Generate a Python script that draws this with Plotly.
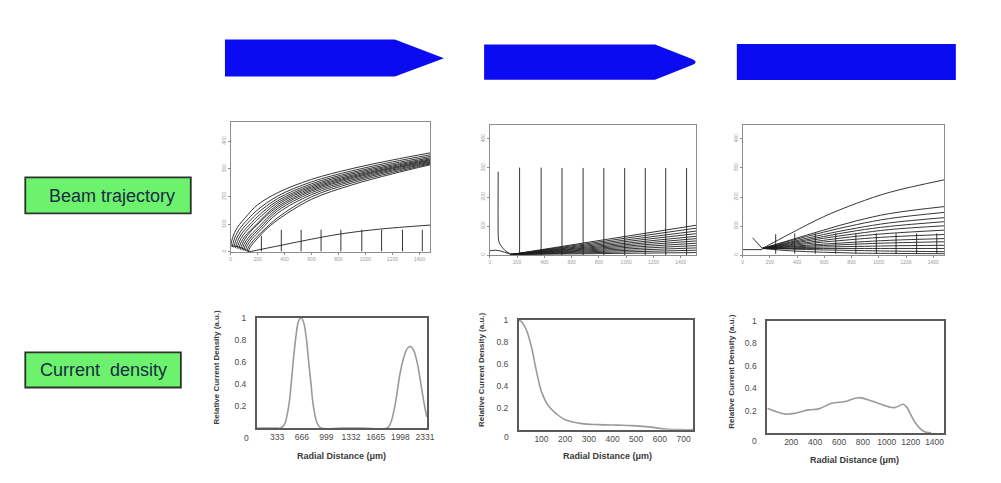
import plotly.graph_objects as go

W, H = 1001, 483

# ---------------- Beam trajectory panel 1 (pointed tip) ----------------
T1_CURVES_X = [
    [0, 15, 50, 120, 200, 350, 600, 900, 1200, 1482],
    [12, 27, 62, 132, 200, 350, 600, 900, 1200, 1482],
    [24, 39, 74, 144, 200, 350, 600, 900, 1200, 1482],
    [36, 51, 86, 156, 200, 350, 600, 900, 1200, 1482],
    [48, 63, 98, 168, 200, 350, 600, 900, 1200, 1482],
    [60, 75, 110, 180, 350, 600, 900, 1200, 1482],
    [72, 87, 122, 192, 350, 600, 900, 1200, 1482],
    [84, 99, 134, 204, 350, 600, 900, 1200, 1482],
    [96, 111, 146, 216, 350, 600, 900, 1200, 1482],
    [108, 123, 158, 228, 350, 600, 900, 1200, 1482],
    [120, 135, 170, 240, 350, 600, 900, 1200, 1482],
    [130, 145, 180, 250, 350, 600, 900, 1200, 1482],
]
T1_CURVES_Y = [
    [20, 52, 88, 130, 170, 214, 262, 301, 332, 358],
    [18, 46, 80, 120, 152, 202, 253, 293, 325, 351],
    [16, 42, 74, 113, 140, 193, 246, 287, 319, 345],
    [14, 38, 69, 106, 128, 185, 240, 282, 314, 340],
    [12, 35, 64, 102, 117, 178, 235, 277, 310, 336],
    [10, 32, 59, 94, 171, 230, 273, 306, 333],
    [8, 29, 58, 95, 164, 225, 269, 303, 330],
    [6, 27, 53, 88, 157, 220, 265, 300, 327],
    [5, 25, 50, 85, 149, 214, 260, 296, 324],
    [4, 23, 47, 82, 140, 207, 255, 292, 321],
    [2, 20, 42, 76, 124, 199, 249, 287, 318],
    [0, 17, 38, 75, 116, 190, 242, 282, 315],
]
T1_CATHODE_X = [0, 60, 140]
T1_CATHODE_Y = [22, 18, 0]
T1_LOW_X = [133, 376, 600, 818, 1100, 1482]
T1_LOW_Y = [0, 24, 46, 65, 82, 97]
T1_VERT_X = [228, 376, 523, 671, 818, 973, 1120, 1275, 1422]
T1_VERT_TOP = [58, 80, 80, 80, 80, 80, 80, 80, 80]

# ---------------- Beam trajectory panel 2 (rounded tip) ----------------
T2_J_X = [61, 61, 63, 68, 76, 90, 109, 145, 190]
T2_J_Y = [287, 75, 55, 44, 36, 27, 17, 6, 2]
T2_SHORT_X = [0, 40, 80, 145]
T2_SHORT_Y = [15, 17, 14, 4]
T2_FAN_START_X = 150
T2_FAN_START_Y = 2
T2_FAN_END_X = 1515
T2_FAN_END_Y = [103, 93, 83, 74, 65, 57, 49, 41, 33, 25, 17, 9]
T2_VERT_X = [218, 376, 529, 684, 836, 989, 1140, 1290, 1443]
T2_VERT_TOP = [301, 301, 300, 300, 300, 300, 300, 300, 300]

# ---------------- Beam trajectory panel 3 (flat tip) ----------------
T3_CURVE_X = [145, 350, 594, 836, 1079, 1480]
T3_CURVES_Y = [
    [23, 74, 132, 178, 216, 259],
    [23, 52, 86, 118, 143, 167],
    [23, 49, 79, 105, 126, 147],
    [23, 45, 71, 93, 111, 129],
    [23, 42, 64, 84, 99, 115],
    [23, 39, 58, 74, 88, 101],
    [23, 36, 51, 65, 75, 86],
    [23, 33, 45, 55, 63, 71],
    [23, 30, 38, 45, 51, 57],
    [23, 28, 33, 38, 42, 46],
    [23, 25, 28, 30, 32, 34],
    [23, 23, 23, 23, 23, 23],
    [23, 21, 18, 16, 14, 12],
    [23, 15, 10, 7, 6, 5],
]
T3_FLAT_X = [0, 145]
T3_FLAT_Y = [19, 19]
T3_DIAG_X = [73, 145]
T3_DIAG_Y = [60, 23]
T3_VERT_X = [243, 383, 534, 684, 832, 982, 1127, 1278, 1426]
T3_VERT_TOP = [72, 75, 75, 75, 75, 75, 75, 75, 75]

# ---------------- Current density curves ----------------
CD1_X = [60, 300, 377, 430, 489, 522, 555, 590, 622, 657, 690, 722, 755, 790, 822,
         870, 924, 1200, 1500, 1821, 1870, 1909, 1950, 1990, 2040, 2090, 2135,
         2180, 2230, 2280, 2320, 2355]
CD1_Y = [0, 0, 0, 0.03, 0.2, 0.4, 0.64, 0.85, 0.97, 1.0, 0.96, 0.84, 0.63, 0.4, 0.2,
         0.05, 0, 0, 0, 0, 0.05, 0.15, 0.3, 0.48, 0.63, 0.72, 0.74,
         0.7, 0.58, 0.38, 0.22, 0.1]
CD1_TICKS = [333, 666, 999, 1332, 1665, 1998, 2331]

CD2_X = [0, 12, 24, 38, 59, 80, 101, 130, 165, 200, 270, 341, 420, 482, 552, 623, 693, 740]
CD2_Y = [1.0, 0.99, 0.96, 0.9, 0.74, 0.52, 0.34, 0.215, 0.14, 0.09, 0.055, 0.046,
         0.041, 0.037, 0.025, 0.006, 0, 0]
CD2_TICKS = [100, 200, 300, 400, 500, 600, 700]

CD3_X = [0, 55, 152, 235, 346, 430, 540, 651, 762, 873, 1011, 1066, 1136, 1163,
         1233, 1288, 1330, 1371]
CD3_Y = [0.22, 0.197, 0.168, 0.176, 0.206, 0.215, 0.265, 0.28, 0.315, 0.285, 0.235,
         0.226, 0.256, 0.235, 0.10, 0.03, 0.005, 0]
CD3_TICKS = [200, 400, 600, 800, 1000, 1200, 1400]

CD_Y_TICKS = [0.2, 0.4, 0.6, 0.8, 1]
CD_Y_TEXT = ["0.2", "0.4", "0.6", "0.8", "1"]

ROW_LABELS = ["Beam trajectory", "Current\u00a0 density"]
X_TITLE = "Radial Distance (μm)"
Y_TITLE = "Relative Current Density (a.u.)"

# ---------------- helpers ----------------
def pxx(x):
    return x / W


def pxy(y):
    return 1 - y / H


TRAJ = "#1e1e1e"
fig = go.Figure()


def line(xs, ys, ax, color=TRAJ, width=0.9, shape="spline"):
    fig.add_trace(go.Scatter(x=xs, y=ys, xaxis=ax[0], yaxis=ax[1], mode="lines",
                             line=dict(color=color, width=width, shape=shape),
                             hoverinfo="skip", showlegend=False))


def verticals(xs, tops, bottom, ax):
    vx, vy = [], []
    for x, t in zip(xs, tops):
        vx += [x, x, None]
        vy += [bottom, t, None]
    line(vx, vy, ax, shape="linear")


A1, A2, A3 = ("x", "y"), ("x2", "y2"), ("x3", "y3")
B1, B2, B3 = ("x4", "y4"), ("x5", "y5"), ("x6", "y6")

# panel 1
for xs, ys in zip(T1_CURVES_X, T1_CURVES_Y):
    line(xs, ys, A1)
line(T1_CATHODE_X, T1_CATHODE_Y, A1)
line(T1_LOW_X, T1_LOW_Y, A1)
verticals(T1_VERT_X, T1_VERT_TOP, 2, A1)

# panel 2
line(T2_J_X, T2_J_Y, A2)
line(T2_SHORT_X, T2_SHORT_Y, A2)
for ye in T2_FAN_END_Y:
    line([T2_FAN_START_X, T2_FAN_END_X], [T2_FAN_START_Y, ye], A2, shape="linear")
verticals(T2_VERT_X, T2_VERT_TOP, 0, A2)

# panel 3
for ys in T3_CURVES_Y:
    line(T3_CURVE_X, ys, A3)
line(T3_FLAT_X, T3_FLAT_Y, A3, shape="linear")
line(T3_DIAG_X, T3_DIAG_Y, A3, shape="linear")
verticals(T3_VERT_X, T3_VERT_TOP, 5, A3)

# current density
CD_COLOR = "#9a9a9a"
line(CD1_X, CD1_Y, B1, color=CD_COLOR, width=1.6)
line(CD2_X, CD2_Y, B2, color=CD_COLOR, width=1.6)
line(CD3_X, CD3_Y, B3, color=CD_COLOR, width=1.6)

# ---------------- axes ----------------
def traj_axes(xd, yd, xr, yr):
    common = dict(showgrid=False, zeroline=False, showline=True, mirror=True,
                  linecolor="#8c8c8c", linewidth=1, ticks="outside", ticklen=2,
                  tickcolor="#8c8c8c", tickfont=dict(size=5, color="#9a9a9a",
                                                     family="Arial"))
    xa = dict(common, domain=[pxx(xd[0]), pxx(xd[1])], range=xr,
              tickvals=[0, 200, 400, 600, 800, 1000, 1200, 1400])
    ya = dict(common, domain=[pxy(yd[1]), pxy(yd[0])], range=yr,
              tickvals=[0, 100, 200, 300, 400], tickangle=-90)
    return xa, ya


def cd_axes(xd, yd, xr, xt):
    common = dict(showgrid=False, zeroline=False, showline=True, mirror=True,
                  linecolor="#5a5a5a", linewidth=2,
                  tickfont=dict(size=8.5, color="#4a4a4a", family="Arial"))
    xa = dict(common, domain=[pxx(xd[0]), pxx(xd[1])], range=xr, tickvals=xt,
              ticks="")
    ya = dict(common, domain=[pxy(yd[1]), pxy(yd[0])], range=[0, 1],
              tickvals=CD_Y_TICKS, ticktext=CD_Y_TEXT, ticks="outside",
              tickcolor="rgba(0,0,0,0)", ticklen=7)
    return xa, ya


layout_axes = {}
specs = [
    traj_axes((231.7, 433.3), (118.3, 250), [0, 1482], [0, 470]),
    traj_axes((493.3, 701.7), (121.7, 253.3), [0, 1515], [0, 447]),
    traj_axes((748.3, 951.7), (121.7, 253.3), [0, 1480], [0, 447]),
    cd_axes((258.3, 430), (316.7, 428.3), [60, 2360], CD1_TICKS),
    cd_axes((522.7, 698.3), (319, 430), [5, 740], CD2_TICKS),
    cd_axes((773.3, 951.7), (320, 433.3), [0, 1480], CD3_TICKS),
]
for i, (xa, ya) in enumerate(specs, start=1):
    sx = "" if i == 1 else str(i)
    xa["anchor"] = "y" + sx
    ya["anchor"] = "x" + sx
    layout_axes["xaxis" + sx] = xa
    layout_axes["yaxis" + sx] = ya

# ---------------- shapes ----------------
def path(points, close=True):
    s = "M " + " L ".join(f"{pxx(x):.5f},{pxy(y):.5f}" for x, y in points)
    return s + (" Z" if close else "")


BLUE = "#0b0bf2"
shapes = [
    dict(type="path", xref="paper", yref="paper",
         path=path([(226, 35), (397.5, 35), (447, 54), (397.5, 72.3), (226, 72.3)]),
         fillcolor=BLUE, line=dict(width=0)),
    dict(type="path", xref="paper", yref="paper",
         path=("M " + f"{pxx(487.5):.5f},{pxy(40):.5f}"
               + f" L {pxx(660):.5f},{pxy(40):.5f}"
               + f" L {pxx(698):.5f},{pxy(55):.5f}"
               + f" Q {pxx(704):.5f},{pxy(57.8):.5f} {pxx(698):.5f},{pxy(60.6):.5f}"
               + f" L {pxx(660):.5f},{pxy(75.7):.5f}"
               + f" L {pxx(487.5):.5f},{pxy(75.7):.5f} Z"),
         fillcolor=BLUE, line=dict(width=0)),
    dict(type="rect", xref="paper", yref="paper", x0=pxx(742.5), x1=pxx(963.5),
         y0=pxy(76), y1=pxy(39.5), fillcolor=BLUE, line=dict(width=0)),
    dict(type="rect", xref="paper", yref="paper", x0=pxx(24.5), x1=pxx(191.5),
         y0=pxy(211), y1=pxy(174.5), fillcolor="#6cf26c",
         line=dict(color="#2c332c", width=1.8)),
    dict(type="rect", xref="paper", yref="paper", x0=pxx(24.5), x1=pxx(181.5),
         y0=pxy(387.3), y1=pxy(351.7), fillcolor="#6cf26c",
         line=dict(color="#2c332c", width=1.8)),
]

# ---------------- annotations ----------------
ann = []
LABEL_FONT = dict(family="Arial, Liberation Sans", size=18, color="#182c45")
C = dict(xref="paper", yref="paper", showarrow=False, xanchor="center",
         yanchor="middle")
ann.append(dict(C, x=pxx(112), y=pxy(193), text=ROW_LABELS[0], font=LABEL_FONT))
ann.append(dict(C, x=pxx(103), y=pxy(369.5), text=ROW_LABELS[1], font=LABEL_FONT))

TITLE_FONT_X = dict(family="Arial, Liberation Sans", size=9, color="#3a3a3a")
TITLE_FONT_Y = dict(family="Arial, Liberation Sans", size=8, color="#3a3a3a")
for cx, cy in [(344, 456.7), (612, 456.7), (861, 460.5)]:
    ann.append(dict(C, x=pxx(cx), y=pxy(cy), text="<b>" + X_TITLE + "</b>",
                    font=TITLE_FONT_X))
for cx, cy in [(217, 367), (485, 369), (737, 371)]:
    ann.append(dict(C, x=pxx(cx), y=pxy(cy), text="<b>" + Y_TITLE + "</b>",
                    textangle=-90, font=TITLE_FONT_Y))
for cx, cy in [(248, 438.3), (510, 437.7), (760, 441.7)]:
    ann.append(dict(C, x=pxx(cx), y=pxy(cy), text="0",
                    font=dict(family="Arial", size=8.5, color="#4a4a4a")))

fig.update_layout(
    width=W, height=H, autosize=False,
    margin=dict(l=0, r=0, t=0, b=0, pad=0),
    paper_bgcolor="white", plot_bgcolor="white",
    shapes=shapes, annotations=ann, showlegend=False,
    **layout_axes,
)

fig.write_html(
    "out.html",
    config={"displayModeBar": False, "responsive": False},
    post_script="document.body.style.margin='0';document.body.style.overflow='hidden';",
)
